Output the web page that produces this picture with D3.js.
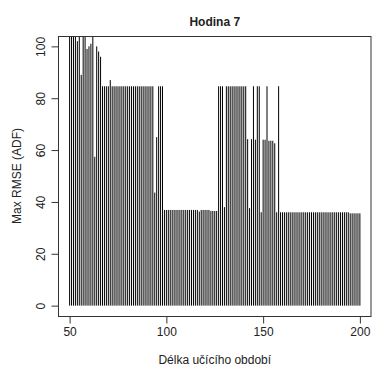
<!DOCTYPE html>
<html>
<head>
<meta charset="utf-8">
<script src="https://cdn.jsdelivr.net/npm/d3@7"></script>
<style>
  body { margin: 0; background: #fff; }
  text { font-family: "Liberation Sans", Arial, sans-serif; fill: #222; }
</style>
</head>
<body>
<script>
var w = 372;
var h = 368;

// learning period length, 50..200
var lengths = d3.range(50, 201);

// max RMSE for each length (values above 104 are cut off by the plot box)
var rmse = [
  110, 110, 110, 110, 102, 110, 89, 110, 110, 99,      // 50-59
  100, 101, 110, 57.4, 100, 98, 96, 84.6, 84.6, 84.6,  // 60-69
  84.6, 87, 84.6, 84.6, 84.6, 84.6, 84.6, 84.6, 84.6, 84.6, // 70-79
  84.6, 84.6, 84.6, 84.6, 84.6, 84.6, 84.6, 84.6, 84.6, 84.6, // 80-89
  84.6, 84.6, 84.6, 84.6, 43.6, 65, 84.6, 84.6, 84.6, 36.9,   // 90-99
  36.9, 36.9, 36.9, 36.9, 36.9, 36.9, 36.9, 36.9, 36.9, 36.9, // 100-109
  36.9, 36.9, 36.9, 36.9, 36.9, 36.9, 36.9, 36.3, 36.9, 36.9, // 110-119
  36.9, 36.9, 36.9, 36.5, 36.5, 36.5, 36.5, 84.6, 84.6, 84.6, // 120-129
  38, 84.6, 84.6, 84.6, 84.6, 84.6, 84.6, 84.6, 84.6, 84.6,   // 130-139
  84.6, 84.6, 64.2, 37.6, 64.2, 84.6, 64, 84.6, 84.6, 36,     // 140-149
  64, 64, 84.6, 63.6, 63.6, 63.6, 62.6, 36, 84.6, 36,         // 150-159
  36, 36, 36, 36, 36, 36, 36, 36, 36, 36,                     // 160-169
  36, 36, 36, 36, 36, 36, 36, 36, 36, 36,                     // 170-179
  36, 36, 36, 36, 36, 36, 36, 36, 36, 36,                     // 180-189
  36, 36, 36, 36, 36, 35.6, 35.6, 35.6, 35.6, 35.6, 35.6      // 190-200
];

var xTicks = [50, 100, 150, 200];
var yTicks = [0, 20, 40, 60, 80, 100];

var plotLeft = 58, plotRight = 371.5, plotTop = 36, plotBottom = 316;

var xScale = d3.scaleLinear().domain([44, 206]).range([plotLeft, plotRight]);
var yScale = d3.scaleLinear().domain([-4, 104]).range([plotBottom, plotTop]);

var svg = d3.select("body").append("svg").attr("width", w).attr("height", h);

svg.append("clipPath").attr("id", "plotclip")
  .append("rect")
  .attr("x", plotLeft).attr("y", plotTop)
  .attr("width", plotRight - plotLeft).attr("height", plotBottom - plotTop);

// vertical lines (type = "h")
svg.append("g")
  .attr("clip-path", "url(#plotclip)")
  .selectAll("line")
  .data(lengths)
  .enter()
  .append("line")
  .attr("x1", function (d) { return xScale(d); })
  .attr("x2", function (d) { return xScale(d); })
  .attr("y1", yScale(0))
  .attr("y2", function (d, i) { return yScale(rmse[i]); })
  .attr("stroke", "#000")
  .attr("stroke-width", 1);

// box
svg.append("rect")
  .attr("x", plotLeft + 0.5).attr("y", plotTop + 0.5)
  .attr("width", plotRight - plotLeft - 1).attr("height", plotBottom - plotTop)
  .attr("fill", "none")
  .attr("stroke", "#333");

// axes
var xAxis = d3.axisBottom(xScale).tickValues(xTicks).tickSize(7).tickPadding(4);
var yAxis = d3.axisLeft(yScale).tickValues(yTicks).tickSize(7);

var gx = svg.append("g")
  .attr("transform", "translate(0," + (plotBottom + 0.5) + ")")
  .call(xAxis);
gx.select(".domain").remove();
gx.selectAll("line").attr("stroke", "#333");
gx.selectAll("text").style("font-size", "12px").attr("fill", "#222")
  .style("font-family", "Liberation Sans, Arial, sans-serif");

var gy = svg.append("g")
  .attr("transform", "translate(" + (plotLeft + 0.5) + ",0)")
  .call(yAxis);
gy.select(".domain").remove();
gy.selectAll("line").attr("stroke", "#333");
gy.selectAll("text")
  .style("font-size", "12px").attr("fill", "#222")
  .style("font-family", "Liberation Sans, Arial, sans-serif")
  .attr("x", null).attr("dy", null)
  .attr("text-anchor", "middle")
  .attr("transform", "translate(-14,0) rotate(-90)");

// title and labels
svg.append("text")
  .attr("x", (plotLeft + plotRight) / 2).attr("y", 26)
  .attr("text-anchor", "middle")
  .style("font-size", "12px").style("font-weight", "bold")
  .text("Hodina 7");

svg.append("text")
  .attr("x", (plotLeft + plotRight) / 2).attr("y", 364)
  .attr("text-anchor", "middle")
  .style("font-size", "12px")
  .text("Délka učícího období");

svg.append("text")
  .attr("transform", "translate(21," + (plotTop + plotBottom) / 2 + ") rotate(-90)")
  .attr("text-anchor", "middle")
  .style("font-size", "12px")
  .text("Max RMSE (ADF)");
</script>
</body>
</html>
